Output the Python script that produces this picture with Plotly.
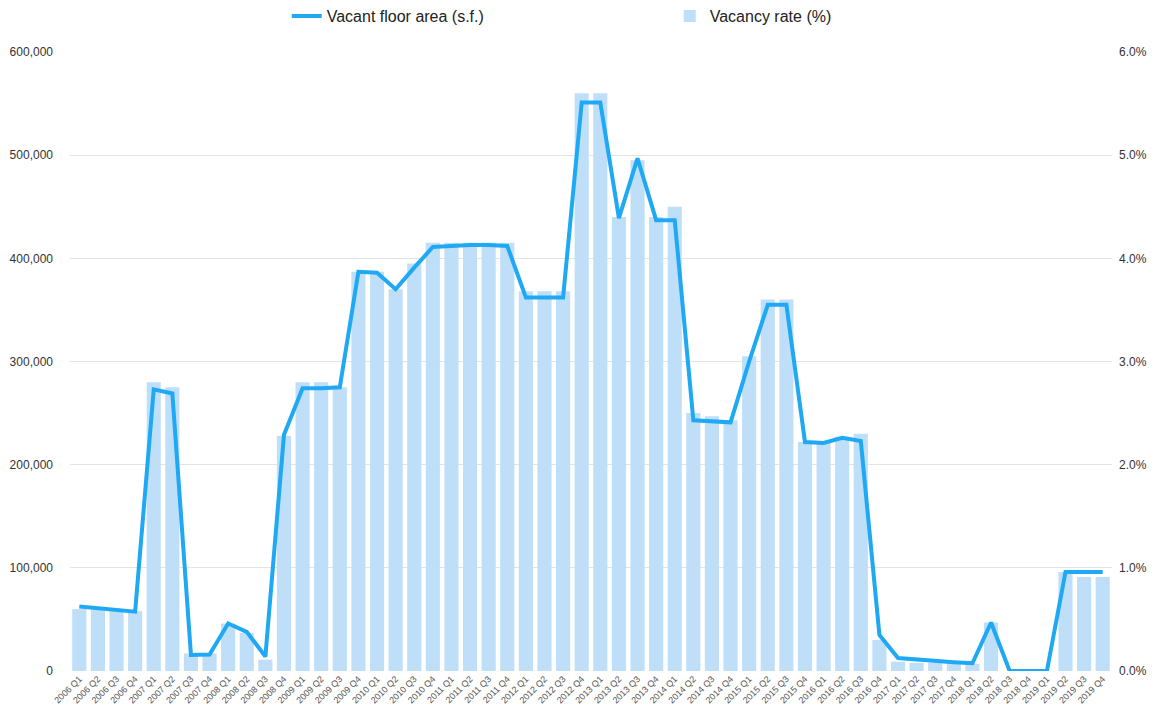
import plotly.graph_objects as go

years = list(range(2006, 2020))
quarters = ["Q1", "Q2", "Q3", "Q4"]
categories = [f"{y} {q}" for y in years for q in quarters]

floor_area = [62500, 61000, 59500, 57500, 273000, 269000, 15500, 16000, 46000, 38000,
              14000, 229000, 274000, 274000, 275000, 387000, 386000, 370000, 391000, 411000,
              412000, 413000, 413000, 412000, 362000, 362000, 362000, 551000, 551000, 439000,
              497000, 437000, 437000, 243000, 242000, 241000, 300000, 355000, 355000, 222000,
              221000, 226000, 223000, 35000, 12500, 11000, 10000, 8500, 7500, 47000,
              0, 0, 0, 96000, 96000, 96000]

vacancy_rate = [0.60, 0.60, 0.58, 0.58, 2.80, 2.75, 0.17, 0.17, 0.46, 0.37,
                0.11, 2.28, 2.80, 2.80, 2.75, 3.87, 3.87, 3.70, 3.95, 4.15,
                4.15, 4.15, 4.15, 4.15, 3.68, 3.68, 3.68, 5.60, 5.60, 4.40,
                4.95, 4.40, 4.50, 2.50, 2.47, 2.43, 3.05, 3.60, 3.60, 2.22,
                2.22, 2.27, 2.30, 0.30, 0.09, 0.08, 0.08, 0.08, 0.07, 0.47,
                0.0, 0.0, 0.0, 0.96, 0.91, 0.91]

left_ticks = [0, 100000, 200000, 300000, 400000, 500000, 600000]
right_ticks = [0, 1, 2, 3, 4, 5, 6]

W, H = 1162, 719
off = 8  # page offset of the figure inside the browser
mt, mb = 0, 56
plot_h = H - mt - mb
dom_top = (plot_h - (52 - off)) / plot_h
legend_y = 1 + 9 / plot_h

fig = go.Figure()
fig.add_trace(go.Scatter(
    x=categories, y=floor_area, name="Vacant floor area (s.f.)",
    mode="lines", line=dict(color="#1fa8f3", width=4), yaxis="y2"))
fig.add_trace(go.Bar(
    x=categories, y=vacancy_rate, name="Vacancy rate (%)",
    marker=dict(color="#bfdff8", line=dict(width=0)), width=0.76, yaxis="y"))

fig.update_layout(
    width=W, height=H,
    margin=dict(l=70 - off, r=W - 1112 + off, t=mt, b=mb, autoexpand=False),
    paper_bgcolor="white", plot_bgcolor="white",
    font=dict(family="Liberation Sans, Arial, sans-serif", color="#333333"),
    showlegend=True,
    legend=dict(orientation="h", x=0.208, xanchor="left", y=legend_y, yanchor="top",
                entrywidth=338, font=dict(size=16, color="#222222"),
                traceorder="normal", bgcolor="rgba(0,0,0,0)"),
    xaxis=dict(type="category", tickangle=-45, tickfont=dict(size=9, color="#555555"),
               showgrid=False, zeroline=False, showline=False, ticks="",
               automargin=False, range=[-0.5, len(categories) - 0.5]),
    yaxis=dict(side="right", range=[0, 6], tickvals=right_ticks, domain=[0, dom_top],
               ticktext=[f"{v:.1f}%" for v in right_ticks], automargin=False,
               tickfont=dict(size=12, color="#333333"), showgrid=False,
               zeroline=False, showline=False, ticklabelstandoff=6),
    yaxis2=dict(side="left", overlaying="y", range=[0, 600000], tickvals=left_ticks,
                ticktext=[f"{v:,}" for v in left_ticks], automargin=False,
                tickfont=dict(size=12, color="#333333"), showgrid=True,
                gridcolor="#e3e3e3", gridwidth=1, zeroline=False, showline=False,
                ticklabelstandoff=16),
)

fig.write_html("out.html")
